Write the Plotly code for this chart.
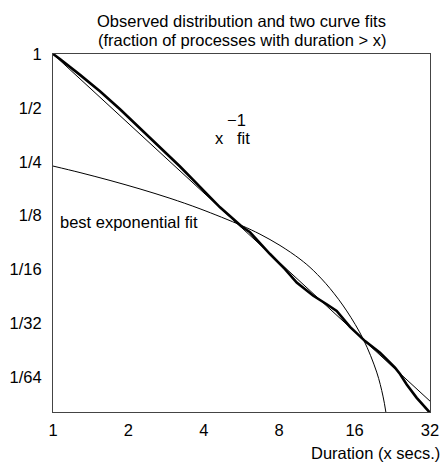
import plotly.graph_objects as go

# Observed distribution (fraction of processes with duration > x)
obs_x = [1.0, 1.066, 1.282, 1.540, 1.852, 2.225, 2.674, 3.214, 3.863, 4.642, 5.668,
         6.116, 7.352, 8.438, 9.397, 10.945, 12.38, 13.57, 15.34, 17.61,
         20.21, 23.20, 24.29, 25.83, 28.32, 29.73, 32.0]
obs_y = [1.0, 0.9375, 0.7646, 0.6194, 0.4916, 0.3853, 0.3022, 0.2353, 0.1808, 0.1391, 0.1086,
         0.1009, 0.0763, 0.0629, 0.0529, 0.0446, 0.0400, 0.0367, 0.0299, 0.0249,
         0.02145, 0.01767, 0.0163, 0.01426, 0.0120, 0.01106, 0.0099]

# power-law fit (straight line on log-log axes)
pow_x = [1.0, 32.0]
pow_y = [1.0, 0.0115]

# best exponential fit
exp_x = [1.0, 1.282, 1.689, 2.225, 2.931, 3.863, 5.668, 6.705, 8.059, 9.686, 10.945, 12.76,
         14.88, 17.33, 19.60, 20.77, 21.35]
exp_y = [0.2366, 0.2175, 0.1966, 0.1762, 0.1563, 0.1365, 0.1100, 0.0985, 0.0852, 0.0715, 0.0618,
         0.0490, 0.0367, 0.0255, 0.01671, 0.01227, 0.0099]

x_ticks = [1, 2, 4, 8, 16, 32]
x_tick_labels = ["1", "2", "4", "8", "16", "32"]
y_ticks = [1, 1/2, 1/4, 1/8, 1/16, 1/32, 1/64]
y_tick_labels = ["1", "1/2", "1/4", "1/8", "1/16", "1/32", "1/64"]

FONT = "Liberation Sans, Arial, sans-serif"
FS = 16.5

fig = go.Figure()
fig.add_trace(go.Scatter(x=exp_x, y=exp_y, mode="lines", line=dict(color="black", width=1, shape="spline"),
                         showlegend=False, hoverinfo="skip"))
fig.add_trace(go.Scatter(x=pow_x, y=pow_y, mode="lines", line=dict(color="black", width=1),
                         showlegend=False, hoverinfo="skip"))
fig.add_trace(go.Scatter(x=obs_x, y=obs_y, mode="lines", line=dict(color="black", width=2.6),
                         showlegend=False, hoverinfo="skip"))

fig.update_xaxes(type="log", range=[0, 1.50515], tickvals=x_ticks, ticktext=x_tick_labels,
                 showgrid=False, zeroline=False, showline=True, mirror=True, automargin=False,
                 linecolor="#444", linewidth=1, ticks="", ticklabelstandoff=3)
fig.update_yaxes(type="log", range=[-2, 0], tickvals=y_ticks, ticktext=y_tick_labels,
                 showgrid=False, zeroline=False, showline=True, mirror=True, automargin=False,
                 linecolor="#444", linewidth=1, ticks="", ticklabelstandoff=7)

ann = [
    dict(text="Observed distribution and two curve fits", x=0.5, y=1.0922),
    dict(text="(fraction of processes with duration > x)", x=0.5, y=1.0405),
    dict(text="best exponential fit", x=0.0133, y=0.530, xanchor="left"),
    dict(text="x", x=0.4236, y=0.7666, xanchor="left"),
    dict(text="fit", x=0.4828, y=0.7666, xanchor="left"),
    dict(text="\u22121", x=0.4562, y=0.8169, xanchor="left"),
    dict(text="Duration (x secs.)", x=1.031, y=-0.1155, xanchor="right"),
]
for a in ann:
    a.setdefault("xanchor", "center")
    fig.add_annotation(xref="paper", yref="paper", showarrow=False, yanchor="middle",
                       font=dict(family=FONT, size=FS, color="black"), **a)

fig.update_layout(width=443, height=466, margin=dict(l=53, r=13, t=54, b=54.3, autoexpand=False),
                  paper_bgcolor="white", plot_bgcolor="white",
                  font=dict(family=FONT, size=FS, color="black"))

fig.write_html("out.html")
